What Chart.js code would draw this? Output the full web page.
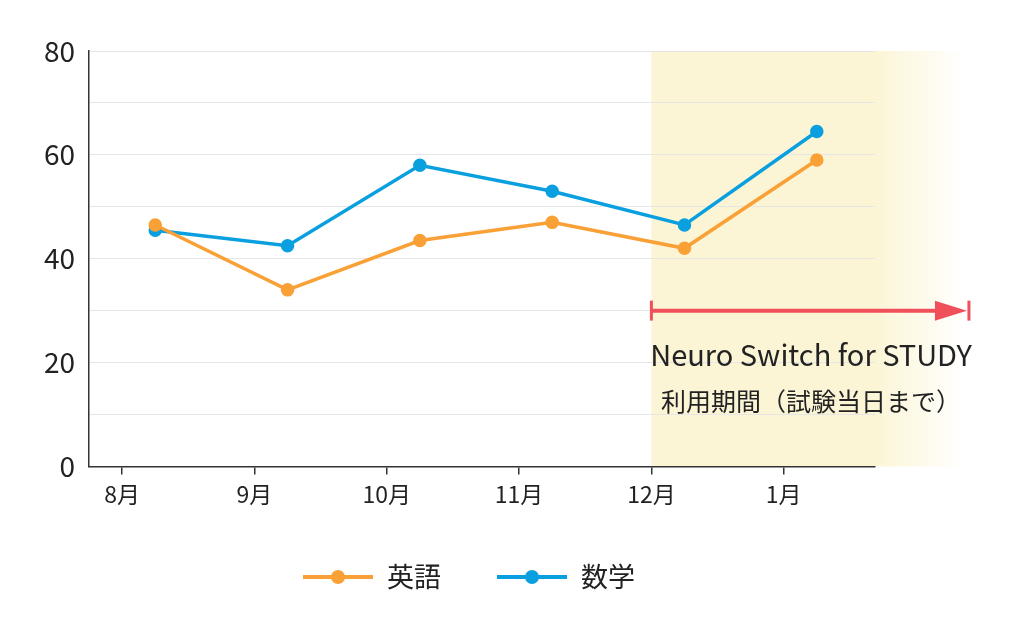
<!DOCTYPE html>
<html><head><meta charset="utf-8">
<script src="https://cdn.jsdelivr.net/npm/chart.js@4"></script>
<style>html,body{margin:0;background:#fff}#w{width:1024px;height:640px}</style>
</head><body><div id="w"><canvas id="c"></canvas></div>
<script>
const months = ['8月','9月','10月','11月','12月','1月'];
const english = [46.5, 34, 43.5, 47, 42, 59];
const math = [45.5, 42.5, 58, 53, 46.5, 64.5];
const seriesNames = ['英語','数学'];
const FONT = '"Noto Sans CJK JP","Noto Sans",sans-serif';
const ORANGE = '#f9a036', BLUE = '#0aa0e0', RED = '#f0505a';

const toPts = arr => arr.map((v,i)=>({x:i+0.25,y:v}));

const deco = {
  id:'deco',
  beforeDraw(ch){
    const {ctx, chartArea:a, scales:{x,y}} = ch;
    const x0 = x.getPixelForValue(4);
    ctx.save();
    ctx.fillStyle = '#fbf5d6';
    ctx.fillRect(x0, a.top, a.right - x0, a.bottom - a.top);
    const g = ctx.createLinearGradient(a.right,0,a.right+90,0);
    g.addColorStop(0,'rgba(251,245,214,1)');
    g.addColorStop(1,'rgba(251,245,214,0)');
    ctx.fillStyle = g;
    ctx.fillRect(a.right, a.top, 90, a.bottom - a.top);
    ctx.restore();
  },
  afterDraw(ch){
    const {ctx, chartArea:a, scales:{x,y}} = ch;
    const x0 = x.getPixelForValue(4), x1 = x.getPixelForValue(6.4);
    const yy = y.getPixelForValue(30);
    ctx.save();
    ctx.strokeStyle = RED; ctx.fillStyle = RED; ctx.lineWidth = 4;
    ctx.beginPath(); ctx.moveTo(x0,yy); ctx.lineTo(x1-30,yy); ctx.stroke();
    ctx.lineWidth = 3;
    ctx.beginPath(); ctx.moveTo(x0,yy-10); ctx.lineTo(x0,yy+10); ctx.stroke();
    ctx.beginPath(); ctx.moveTo(x1,yy-10); ctx.lineTo(x1,yy+10); ctx.stroke();
    ctx.beginPath(); ctx.moveTo(x1-2,yy); ctx.lineTo(x1-34,yy-10); ctx.lineTo(x1-34,yy+10); ctx.closePath(); ctx.fill();
    ctx.fillStyle = '#222'; ctx.textAlign='center'; ctx.textBaseline='middle';
    ctx.font = '29px '+FONT;
    ctx.fillText('Neuro Switch for STUDY', 811, 355);
    ctx.font = '25px '+FONT;
    ctx.fillText('利用期間（試験当日まで）', 811, 401);
    const items = [[seriesNames[0],ORANGE,303],[seriesNames[1],BLUE,497]];
    items.forEach(([t,c,lx])=>{
      ctx.strokeStyle=c; ctx.fillStyle=c; ctx.lineWidth=4;
      ctx.beginPath(); ctx.moveTo(lx,577); ctx.lineTo(lx+70,577); ctx.stroke();
      ctx.beginPath(); ctx.arc(lx+35,577,7,0,Math.PI*2); ctx.fill();
      ctx.fillStyle='#222'; ctx.textAlign='left'; ctx.font='27px '+FONT;
      ctx.fillText(t, lx+84, 577);
    });
    ctx.restore();
  }
};

new Chart(document.getElementById('c'), {
  type:'line',
  data:{datasets:[
    {label:seriesNames[0], data:toPts(english), borderColor:ORANGE, backgroundColor:ORANGE, borderWidth:3.5, pointRadius:5, pointHoverRadius:5, tension:0},
    {label:seriesNames[1], data:toPts(math), borderColor:BLUE, backgroundColor:BLUE, borderWidth:3.5, pointRadius:5, pointHoverRadius:5, tension:0}
  ]},
  options:{
    responsive:true, maintainAspectRatio:false, animation:false,
    layout:{padding:{top:51,right:149,bottom:126,left:30}},
    plugins:{legend:{display:false}, tooltip:{enabled:false}},
    scales:{
      x:{type:'linear', min:-0.25, max:5.69,
        afterBuildTicks: s=>{ s.ticks = months.map((m,i)=>({value:i})); },
        ticks:{callback:v=>months[v], color:'#222', font:{family:FONT,size:23}, padding:6, maxRotation:0, autoSkip:false},
        grid:{drawOnChartArea:false, color:'#333', tickLength:8, lineWidth:1.5},
        border:{color:'#333', width:1.5}},
      y:{min:0, max:80,
        ticks:{stepSize:10, callback:v=>v%20===0?v:'', color:'#222', font:{family:FONT,size:28}, padding:14},
        grid:{color:'#e6e6e6', lineWidth:1, drawTicks:false},
        border:{color:'#333', width:1.5}}
    }
  },
  plugins:[deco]
});
</script></body></html>
